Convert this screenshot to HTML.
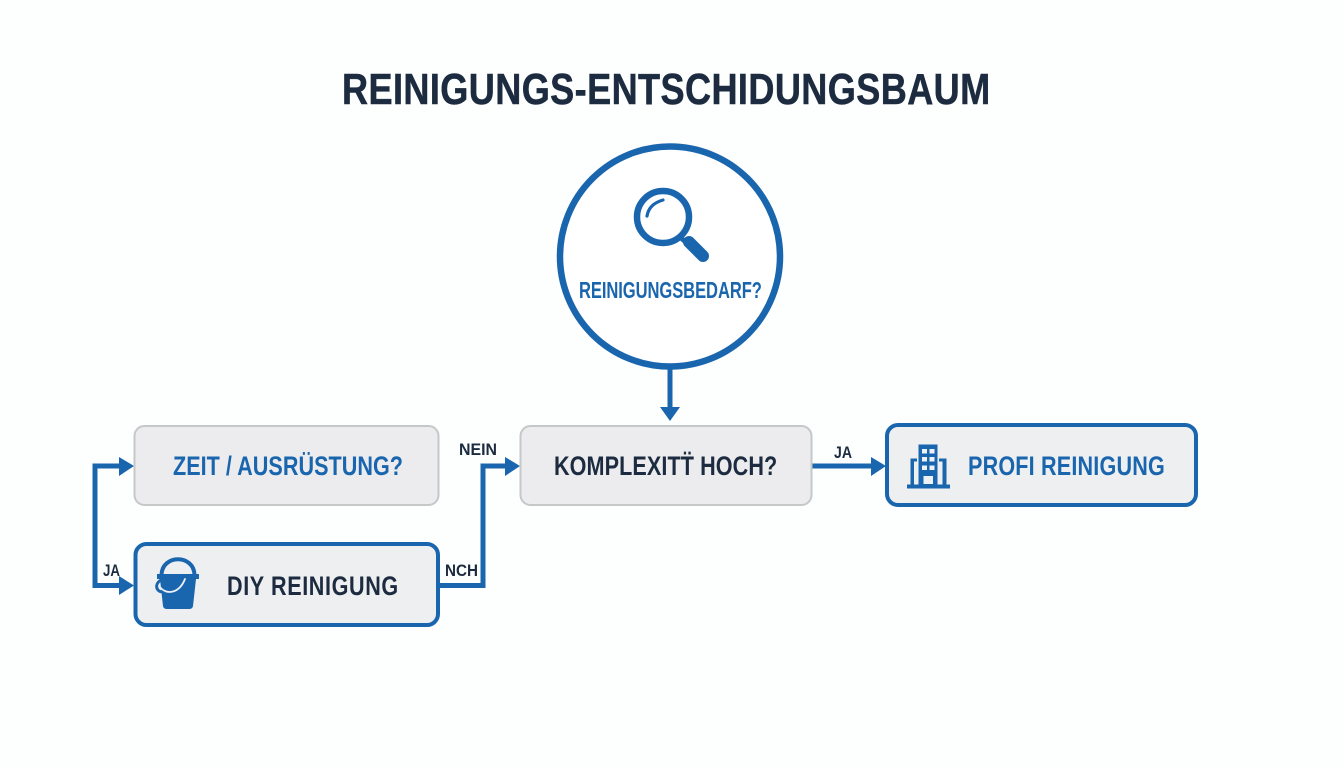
<!DOCTYPE html>
<html lang="de"><head><meta charset="utf-8"><title>Reinigungs-Entschidungsbaum</title>
<style>
html,body{margin:0;padding:0;background:#fdfefe;width:1344px;height:768px;overflow:hidden}
svg{display:block}
text{font-family:"Liberation Sans","DejaVu Sans",sans-serif;font-weight:700}
</style></head><body>
<svg width="1344" height="768" viewBox="0 0 1344 768" xmlns="http://www.w3.org/2000/svg">
<rect width="1344" height="768" fill="#fdfefe"/>
<text transform="translate(342,104) scale(.83,1)" font-size="43.5" fill="#1c2b3f" stroke="#1c2b3f" stroke-width=".5" textLength="781" lengthAdjust="spacing">REINIGUNGS-ENTSCHIDUNGSBAUM</text>

<!-- circle -->
<circle cx="670" cy="256.5" r="110" fill="#fff" stroke="#1a66ae" stroke-width="6.5"/>
<circle cx="663" cy="217" r="26" fill="none" stroke="#1a66ae" stroke-width="6.5"/>
<path d="M647 216 Q649 204 663 200" fill="none" stroke="#1a66ae" stroke-width="3.2" stroke-linecap="round"/>
<path d="M681 238 L688 244" stroke="#1a66ae" stroke-width="5"/>
<path d="M689 242 L703 256" stroke="#1a66ae" stroke-width="12" stroke-linecap="round"/>
<text transform="translate(579,298) scale(.72,1)" font-size="23" fill="#1a66ae" textLength="254" lengthAdjust="spacing">REINIGUNGSBEDARF?</text>

<!-- connectors -->
<g fill="none" stroke="#1a66ae" stroke-width="5">
<path d="M670 369 V408"/>
<path d="M812 466 H872"/>
<path d="M121 466 H95 V585.5 H121"/>
<path d="M440 585.5 H483 V466 H506"/>
</g>
<g fill="#1a66ae">
<path d="M660 407 H680 L670 421 Z"/>
<path d="M871 457 L886 466 L871 476 Z"/>
<path d="M119 457 L134 466 L119 476 Z"/>
<path d="M119 576 L134 585.5 L119 595 Z"/>
<path d="M505 457 L520 466 L505 476 Z"/>
</g>

<!-- boxes -->
<rect x="134.5" y="426" width="304" height="79" rx="10" fill="#ececee" stroke="#c5c7c9" stroke-width="2"/>
<rect x="520.5" y="426" width="291" height="79" rx="10" fill="#ececee" stroke="#c5c7c9" stroke-width="2"/>
<rect x="135.5" y="544" width="302.5" height="81" rx="11" fill="#eeeff1" stroke="#1a66ae" stroke-width="4"/>
<rect x="887" y="425" width="309" height="80" rx="11" fill="#eeeff1" stroke="#1a66ae" stroke-width="4"/>

<!-- box labels -->
<text transform="translate(173,475) scale(.8,1)" font-size="27" fill="#1a66ae" textLength="287.5" lengthAdjust="spacing">ZEIT / AUSRÜSTUNG?</text>
<text transform="translate(554,475) scale(.8,1)" font-size="27" fill="#1c2b3f" textLength="279" lengthAdjust="spacing">KOMPLEXITT̈ HOCH?</text>
<text transform="translate(227,595) scale(.8,1)" font-size="27" fill="#1c2b3f" textLength="214" lengthAdjust="spacing">DIY REINIGUNG</text>
<text transform="translate(968,475) scale(.8,1)" font-size="27" fill="#1a66ae" textLength="246" lengthAdjust="spacing">PROFI REINIGUNG</text>

<!-- edge labels -->
<text x="459" y="455" font-size="17" fill="#1c2b3f" textLength="38" lengthAdjust="spacingAndGlyphs">NEIN</text>
<text x="445" y="576" font-size="17" fill="#1c2b3f" textLength="33" lengthAdjust="spacingAndGlyphs">NCH</text>
<text x="103" y="576" font-size="17" fill="#1c2b3f" textLength="17" lengthAdjust="spacingAndGlyphs">JA</text>
<text x="834" y="458" font-size="17" fill="#1c2b3f" textLength="18" lengthAdjust="spacingAndGlyphs">JA</text>

<!-- bucket -->
<path d="M161.5 575 C162 554 194 554 194.5 575" fill="none" stroke="#1a66ae" stroke-width="4"/>
<path d="M157 574 H199 V579 H196 L193 606 Q192.5 609 189 609 H167 Q163.5 609 163 606 L160 579 H157 Z" fill="#1a66ae"/>
<path d="M161 580 C154 584 156 592 163 592" fill="none" stroke="#1a66ae" stroke-width="3"/>
<path d="M160 587 C166 595 179 594 185 579" fill="none" stroke="#e9f0f7" stroke-width="1.8" stroke-linecap="round"/>

<!-- building -->
<g fill="#1a66ae">
<rect x="907" y="484.5" width="43" height="4"/>
<path d="M918.5 444.5 H937.5 V485 H918.5 Z"/>
<path d="M910.5 458.5 H917 V461.5 H914 V485 H910.5 Z"/>
<path d="M939 458.5 H946.5 V485 H942.5 V461.5 H939 Z"/>
</g>
<g fill="#eef2f6">
<rect x="922" y="449" width="5" height="4.5"/><rect x="929.5" y="449" width="5" height="4.5"/>
<rect x="922" y="457" width="5" height="4.5"/><rect x="929.5" y="457" width="5" height="4.5"/>
<rect x="922" y="465.5" width="5" height="4.5"/><rect x="929.5" y="465.5" width="5" height="4.5"/>
<rect x="923.5" y="476" width="9.5" height="8"/>
</g>
</svg>
</body></html>
